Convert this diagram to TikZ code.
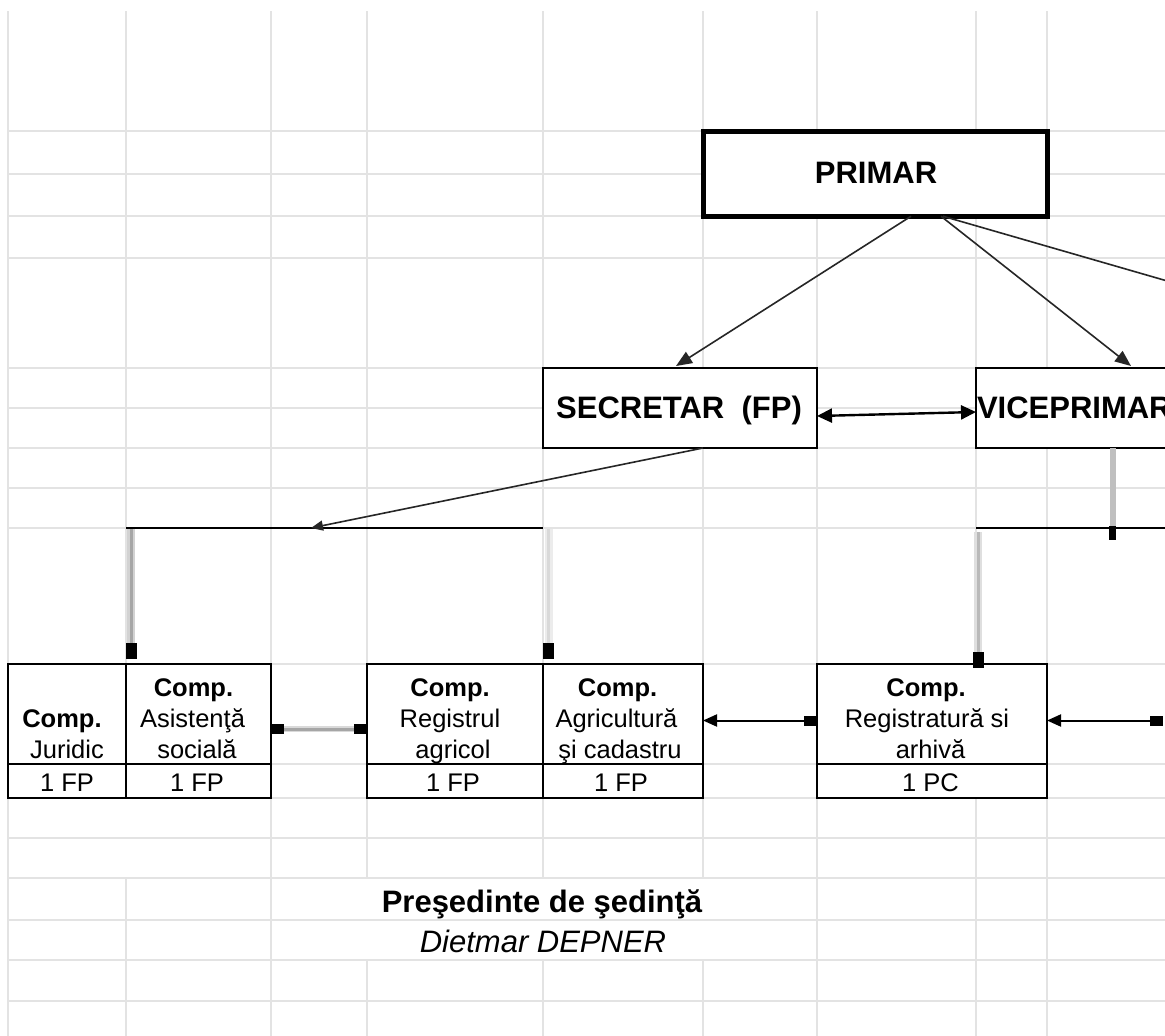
\documentclass[tikz,border=0pt]{standalone}
\usepackage{fontspec}
\setmainfont{Liberation Sans}
\usetikzlibrary{arrows.meta,calc}
\begin{document}
\begin{tikzpicture}[x=1pt,y=-1pt,
  gridline/.style={draw=gray!22, line width=1.3pt},
  box/.style={draw=black, line width=1.8pt, fill=white, rectangle, inner sep=0pt, outer sep=0pt},
  ttl/.style={font=\fontsize{31}{36}\selectfont\bfseries, inner sep=0pt, outer sep=0pt, anchor=base},
  txt/.style={font=\fontsize{25.5}{30}\selectfont, inner sep=0pt, outer sep=0pt, anchor=base},
  btxt/.style={font=\fontsize{25.5}{30}\selectfont\bfseries, inner sep=0pt, outer sep=0pt, anchor=base},
  thinarr/.style={draw=black!85, line width=1.6pt, -{Triangle[length=16pt,width=13pt]}},
  dblarr/.style={draw=black, line width=2.4pt, {Triangle[length=15pt,width=14pt]}-{Triangle[length=15pt,width=14pt]}},
  smallarr/.style={draw=black!85, line width=1.6pt, -{Triangle[length=12pt,width=10pt]}},
  busline/.style={draw=black, line width=1.6pt},
  gunder/.style={draw=gray!#1, line width=8pt, shorten >=14pt},
  gcore/.style={draw=gray!#1, line width=3pt, -{Rectangle[length=16pt,width=11pt,black]}},
  hunder/.style={draw=gray!30, line width=6pt, shorten >=11pt, shorten <=11pt},
  hcore/.style={draw=gray!70, line width=3pt, {Rectangle[length=13pt,width=10pt,black]}-{Rectangle[length=13pt,width=10pt,black]}},
  blkarr/.style={draw=black, line width=2pt, {Triangle[length=14pt,width=12pt]}-{Rectangle[length=13pt,width=10pt]}}
]
\useasboundingbox (0,0) rectangle (1165,1036);
\clip (0,0) rectangle (1165,1036);
\fill[white] (0,0) rectangle (1165,1036);

% ---------- spreadsheet grid ----------
\foreach \yy in {131,174,216,258,368,408,448,488,528,664,764,798,838,878,920,960,1001}
  \draw[gridline] (8,\yy) -- (1165,\yy);
\foreach \xx in {8,271,817,976,1047}
  \draw[gridline] (\xx,11) -- (\xx,1036);
\draw[gridline] (126,11) -- (126,798);
\draw[gridline] (126,878) -- (126,1036);
\foreach \xx in {367,543,703}{
  \draw[gridline] (\xx,11) -- (\xx,878);
  \draw[gridline] (\xx,960) -- (\xx,1036);
}

% ---------- boxes ----------
\node[box, line width=5pt, minimum width=344pt, minimum height=85pt] (primar) at (875,173.75) {};
\node[box, minimum width=274pt, minimum height=80pt] (secretar) at (680,408) {};
\node[box, minimum width=324pt, minimum height=80pt] (vice) at (1138,408) {};

\node[box, minimum width=118pt, minimum height=100pt] (j1u) at (67,714) {};
\node[box, minimum width=118pt, minimum height=34pt] (j1l) at (67,781) {};
\node[box, minimum width=145pt, minimum height=100pt] (j2u) at (198.5,714) {};
\node[box, minimum width=145pt, minimum height=34pt] (j2l) at (198.5,781) {};
\node[box, minimum width=176pt, minimum height=100pt] (j3u) at (455,714) {};
\node[box, minimum width=176pt, minimum height=34pt] (j3l) at (455,781) {};
\node[box, minimum width=160pt, minimum height=100pt] (j4u) at (623,714) {};
\node[box, minimum width=160pt, minimum height=34pt] (j4l) at (623,781) {};
\node[box, minimum width=230pt, minimum height=100pt] (j5u) at (932,714) {};
\node[box, minimum width=230pt, minimum height=34pt] (j5l) at (932,781) {};

% ---------- free-end coordinates ----------
\coordinate (offR) at (1240,302);
\coordinate (busL) at (126,528);
\coordinate (busR) at (543,528);
\coordinate (busM) at (311,528);
\coordinate (busRL) at (976,528);
\coordinate (busRR) at (1165,528);
\coordinate (v1s) at (131,529);
\coordinate (v2s) at (548.5,529);
\coordinate (v3s) at (978,532);
\coordinate (v4e) at (1112.5,540);
\coordinate (rEnd) at (1163,720.5);

% ---------- connectors ----------
\draw[thinarr] ([xshift=36pt]primar.south) -- ([xshift=-4pt,yshift=2pt]secretar.north);
\draw[thinarr] ([xshift=66pt]primar.south) -- ([xshift=155pt,yshift=2pt]vice.north west);
\draw[thinarr] ([xshift=68pt]primar.south) -- (offR);
\draw[dblarr] ([yshift=-8pt]secretar.east) -- ([yshift=-4pt]vice.west);

\draw[busline] (busL) -- (busR);
\draw[busline] (busRL) -- (busRR);
\draw[smallarr] ([xshift=23pt]secretar.south) -- (busM);

\draw[gunder=35] (v1s) -- ([xshift=5pt,yshift=5pt]j2u.north west);
\draw[gcore=70] (v1s) -- ([xshift=5pt,yshift=5pt]j2u.north west);
\draw[gunder=15] (v2s) -- ([xshift=5.5pt,yshift=5pt]j4u.north west);
\draw[gcore=30] (v2s) -- ([xshift=5.5pt,yshift=5pt]j4u.north west);
\draw[gunder=25] (v3s) -- ([xshift=46pt,yshift=-4pt]j5u.north);
\draw[gcore=55] (v3s) -- ([xshift=46pt,yshift=-4pt]j5u.north);
\draw[draw=gray!50, line width=6pt, -{Rectangle[length=14pt,width=7pt,black]}] ([xshift=136.5pt]vice.south west) -- (v4e);

\draw[hunder] ([yshift=-15pt]j2u.east) -- ([yshift=-15pt]j3u.west);
\draw[hcore] ([yshift=-15pt]j2u.east) -- ([yshift=-15pt]j3u.west);
\draw[blkarr] ([yshift=-6.5pt]j4u.east) -- ([yshift=-6.5pt]j5u.west);
\draw[blkarr] ([yshift=-6.5pt]j5u.east) -- (rEnd);

% ---------- texts ----------
\node[ttl] (primarT) at (876,183.3) {PRIMAR};
\node[ttl] (secT) at (679,418.3) {SECRETAR\ \ (FP)};
\node[ttl, anchor=base west] (viceT) at (977,418.3) {VICEPRIMAR};

\node[btxt] (j1a) at (62,727) {Comp.};
\node[txt] (j1b) at (67,758) {Juridic};
\node[txt] (j1c) at (67,791) {1 FP};

\node[btxt] (j2a) at (193.5,696) {Comp.};
\node[txt] (j2b) at (192.5,727.5) {Asistenţă};
\node[txt] (j2c) at (197,758) {socială};
\node[txt] (j2d) at (197,791) {1 FP};

\node[btxt] (j3a) at (450,696) {Comp.};
\node[txt] (j3b) at (450,727.5) {Registrul};
\node[txt] (j3c) at (453,758) {agricol};
\node[txt] (j3d) at (453,791) {1 FP};

\node[btxt] (j4a) at (617.5,696) {Comp.};
\node[txt] (j4b) at (616.5,727.5) {Agricultură};
\node[txt] (j4c) at (620,758) {şi cadastru};
\node[txt] (j4d) at (621,791) {1 FP};

\node[btxt] (j5a) at (926,696) {Comp.};
\node[txt] (j5b) at (927,727.5) {Registratură si};
\node[txt] (j5c) at (930.5,758) {arhivă};
\node[txt] (j5d) at (930.5,791) {1 PC};

\node[ttl] (pres) at (542,912.5) {Preşedinte de şedinţă};
\node[ttl, font=\fontsize{31}{36}\selectfont\itshape] (name) at (543,952) {Dietmar DEPNER};
\end{tikzpicture}
\end{document}
